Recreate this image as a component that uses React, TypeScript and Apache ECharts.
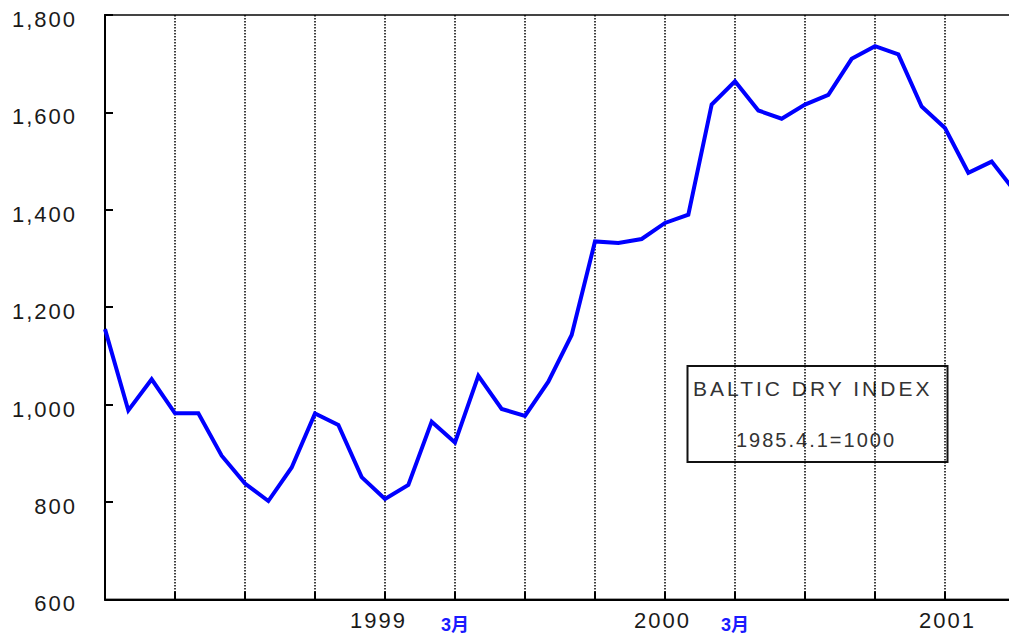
import React, { useEffect, useRef } from "react";
import * as echarts from "echarts";

// Month-end observations, Dec 1997 .. Mar 2001
const months = [
  "1997-12",
  "1998-01", "1998-02", "1998-03", "1998-04", "1998-05", "1998-06",
  "1998-07", "1998-08", "1998-09", "1998-10", "1998-11", "1998-12",
  "1999-01", "1999-02", "1999-03", "1999-04", "1999-05", "1999-06",
  "1999-07", "1999-08", "1999-09", "1999-10", "1999-11", "1999-12",
  "2000-01", "2000-02", "2000-03", "2000-04", "2000-05", "2000-06",
  "2000-07", "2000-08", "2000-09", "2000-10", "2000-11", "2000-12",
  "2001-01", "2001-02", "2001-03",
];

const bdi = [
  1155, 988, 1052, 982, 982, 895, 838, 802, 871, 982, 958, 851, 806,
  835, 965, 922, 1059, 991, 977, 1047, 1143, 1335, 1332, 1340, 1373,
  1390, 1616, 1664, 1604, 1587, 1616, 1636, 1710, 1736, 1719, 1612, 1568,
  1476, 1499, 1438,
];

const yearTickLabels: Record<string, string> = {
  "1998-12": "1999",
  "1999-12": "2000",
  "2000-12": "2001",
};
const monthTickLabels: Record<string, string> = {
  "1999-03": "3月",
  "2000-03": "3月",
};

const yMin = 600;
const yMax = 1800;
const yStep = 200;

const legendTitle = "BALTIC DRY INDEX";
const legendBase = "1985.4.1=1000";

const FONT = "'Liberation Sans', Arial, 'Noto Sans CJK JP', sans-serif";

const yearStyle = (pad: number[]) => ({
  fontFamily: FONT,
  fontSize: 22,
  color: "#1a1a1a",
  padding: pad,
});

export default function App() {
  const ref = useRef<HTMLDivElement>(null);

  useEffect(() => {
    if (!ref.current) return;
    const chart = echarts.init(ref.current, null, { renderer: "svg" });
    chart.setOption({
      animation: false,
      backgroundColor: "#ffffff",
      grid: {
        left: 105,
        top: 15,
        width: 910,
        height: 584.4,
        show: true,
        borderColor: "#444",
        borderWidth: 2,
        containLabel: false,
        outerBoundsMode: "none",
      },
      xAxis: [
        {
          type: "category",
          data: months,
          boundaryGap: false,
          position: "bottom",
          axisLine: { show: true, lineStyle: { color: "#000", width: 2 } },
          axisTick: {
            show: true,
            inside: true,
            interval: 2,
            length: 8,
            lineStyle: { color: "#000", width: 2 },
          },
          splitLine: {
            show: true,
            interval: 2,
            lineStyle: { color: "#000", width: 1.5, type: [1.5, 1.5] },
          },
          axisLabel: {
            interval: 0,
            margin: 10,
            fontFamily: FONT,
            fontSize: 22,
            color: "#1a1a1a",
            formatter: (v: string, i: number) => {
              const t = yearTickLabels[v];
              if (!t) return "";
              const key = t === "1999" ? "a" : t === "2000" ? "b" : "c";
              return `{${key}|${t}}`;
            },
            rich: {
              a: yearStyle([0, 13, 0, 0]),
              b: yearStyle([0, 5, 0, 0]),
              c: yearStyle([0, 0, 0, 5]),
            },
          },
        },
        {
          type: "category",
          data: months,
          boundaryGap: false,
          position: "bottom",
          axisLine: { show: false },
          axisTick: { show: false },
          splitLine: { show: false },
          axisLabel: {
            interval: 0,
            margin: 17,
            fontFamily: FONT,
            fontSize: 18,
            fontWeight: "bold",
            color: "#1a1aff",
            formatter: (v: string) => monthTickLabels[v] || "",
          },
        },
      ],
      yAxis: {
        type: "value",
        min: yMin,
        max: yMax,
        interval: yStep,
        axisLine: { show: true, lineStyle: { color: "#000", width: 2 } },
        axisTick: {
          show: true,
          inside: true,
          length: 8,
          lineStyle: { color: "#000", width: 2 },
        },
        splitLine: { show: false },
        axisLabel: {
          margin: 28,
          formatter: (v: number) => `{n|${v.toLocaleString("en-US")}}`,
          rich: {
            n: {
              fontFamily: FONT,
              fontSize: 22,
              color: "#1a1a1a",
              padding: [9, 0, 0, 0],
            },
          },
        },
      },
      series: [
        {
          type: "line",
          data: bdi,
          xAxisIndex: 0,
          showSymbol: false,
          symbol: "none",
          lineStyle: { color: "#0000ff", width: 4, join: "miter" },
          clip: true,
        },
      ],
      graphic: [
        {
          type: "group",
          z: 100,
          children: [
            {
              type: "rect",
              shape: { x: 687.5, y: 366, width: 260, height: 96 },
              style: { fill: "#fff", stroke: "#111", lineWidth: 2 },
            },
            {
              type: "text",
              x: 693,
              y: 388,
              style: {
                text: legendTitle,
                fontFamily: FONT,
                fontSize: 21,
                fill: "#333334",
                align: "left",
                verticalAlign: "middle",
              },
            },
            {
              type: "text",
              x: 816,
              y: 440,
              style: {
                text: legendBase,
                fontFamily: FONT,
                fontSize: 20,
                fill: "#333333",
                align: "center",
                verticalAlign: "middle",
              },
            },
          ],
        },
      ],
    });
    return () => chart.dispose();
  }, []);

  return (
    <>
      <style>{`#bdi-chart svg text { letter-spacing: 2px; }
#bdi-chart svg text[fill="#1a1aff"], #bdi-chart svg text[fill="rgb(26,26,255)"] { letter-spacing: 0px; }
#bdi-chart svg text[fill="#333334"], #bdi-chart svg text[fill="rgb(51,51,52)"] { letter-spacing: 3px; }`}</style>
      <div
        id="bdi-chart"
        ref={ref}
        style={{ position: "fixed", left: 0, top: 0, width: 1009, height: 637 }}
      />
    </>
  );
}
